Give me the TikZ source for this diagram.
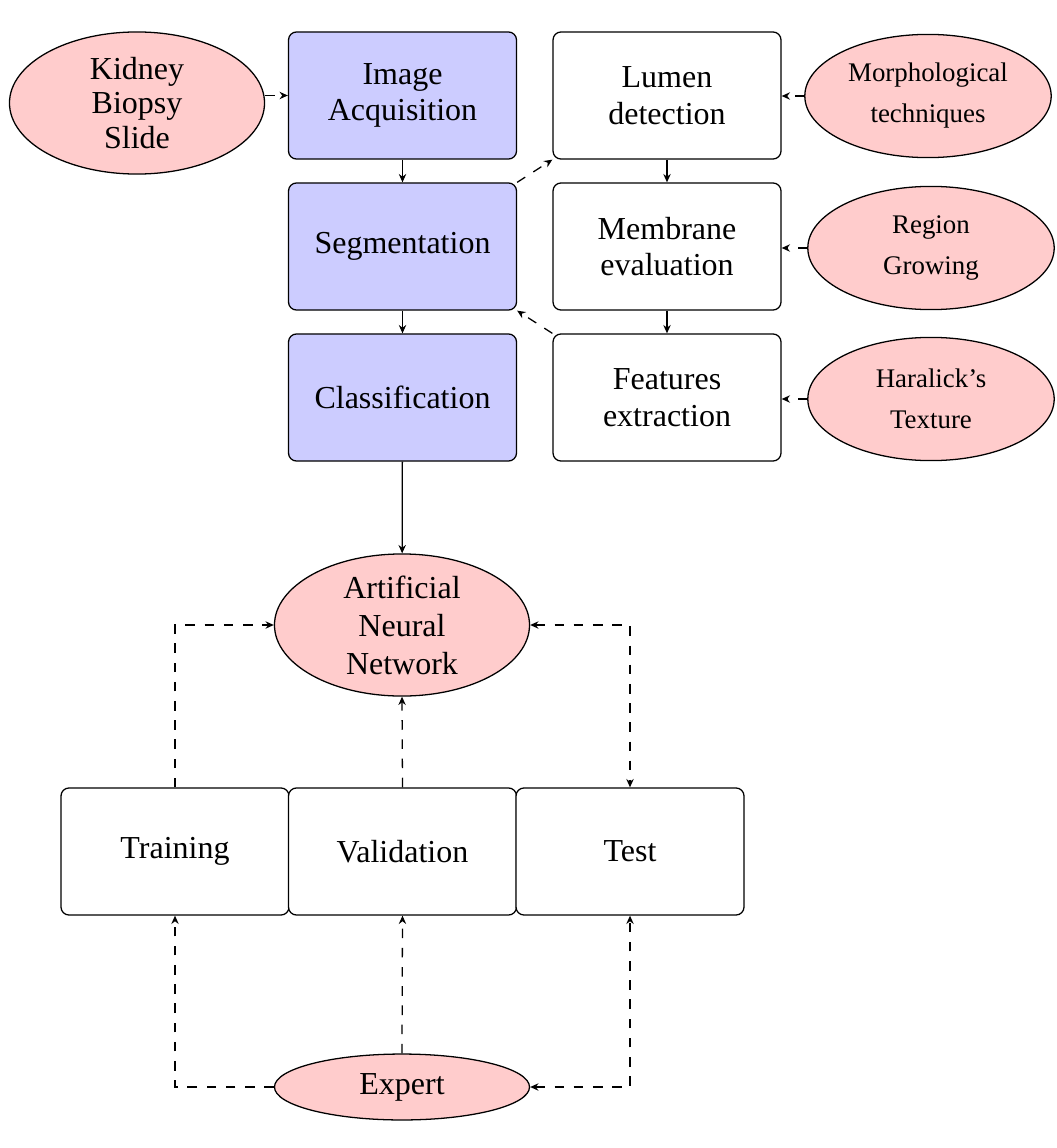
\documentclass[tikz,border=0pt]{standalone}
\usepackage{fontspec}
\setmainfont{Liberation Serif}
\usetikzlibrary{shapes.geometric,arrows.meta}

\begin{document}
\begin{tikzpicture}[x=0.3125pt,y=-0.3125pt,
  >={Stealth[length=2.6pt,width=2.3pt]},
  every node/.style={align=center,font=\fontsize{10}{11.5}\selectfont},
  stage/.style={draw,rounded corners=2.5pt,fill=blue!20,
    minimum width=71.25pt,minimum height=39.7pt,inner sep=0pt},
  substage/.style={stage,fill=white},
  blob/.style={draw,ellipse,fill=red!20,inner sep=0pt},
  method/.style={blob,minimum width=77pt,minimum height=38.5pt,
    font=\fontsize{8.4}{12.8}\selectfont},
  flow/.style={->},
  link/.style={->,dashed},
  dlink/.style={<->,dashed}]
\useasboundingbox (0,0) rectangle (1056,1148);

% main pipeline
\node[stage] (acq) at (402.5,95.5) {Image\\Acquisition};
\node[stage] (seg) at (402.5,246.5) {Segmentation};
\node[stage] (cls) at (402.5,397.5) {Classification};

% segmentation sub-steps
\node[substage] (lum) at (667,95.5) {Lumen\\detection};
\node[substage] (mem) at (667,246.5) {Membrane\\evaluation};
\node[substage] (fea) at (667,397.5) {Features\\extraction};

% inputs and methods
\node[blob,minimum width=79.7pt,minimum height=44.4pt,
  font=\fontsize{10}{10.7}\selectfont] (kid) at (137,103) {Kidney\\Biopsy\\Slide};
\node[method] (mor) at (928,96) {Morphological\\techniques};
\node[method] (reg) at (931,248) {Region\\Growing};
\node[method] (har) at (931,399) {Haralick's\\Texture};

% classifier
\node[blob,minimum width=79.7pt,minimum height=44.4pt,
  font=\fontsize{10}{11.9}\selectfont] (ann) at (402,625) {Artificial\\Neural\\Network};
\node[substage] (tra) at (175,851.5) {Training};
\node[substage] (val) at (402.5,851.5) {Validation};
\node[substage] (tst) at (630,851.5) {Test};
\node[blob,minimum width=79.7pt,minimum height=20.6pt] (exp) at (402,1087) {Expert};

% connectors
\draw[link] (acq.west -| kid.east) -- (acq.west);
\draw[flow] (acq) -- (seg);
\draw[flow] (seg) -- (cls);
\draw[flow] (lum) -- (mem);
\draw[flow] (mem) -- (fea);
\draw[link] (mor.west) -- (mor.west -| lum.east);
\draw[link] (reg.west) -- (reg.west -| mem.east);
\draw[link] (har.west) -- (har.west -| fea.east);
\draw[link] (seg.north east) -- (lum.south west);
\draw[link] (fea.north west) -- (seg.south east);
\draw[flow] (cls) -- (ann);

\draw[link] (tra.north) |- (ann.west);
\draw[link] (val.north) -- (ann.south);
\draw[dlink] (ann.east) -| (tst.north);
\draw[link] (exp.west) -| (tra.south);
\draw[link] (exp.north) -- (val.south);
\draw[dlink] (exp.east) -| (tst.south);
\end{tikzpicture}
\end{document}
